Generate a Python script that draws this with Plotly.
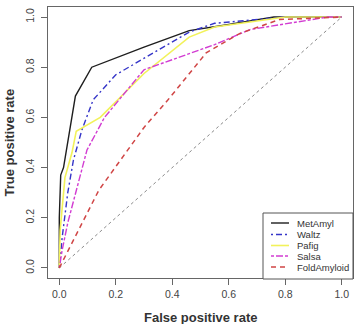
import plotly.graph_objects as go

# ---- data ----
series_names = ["MetAmyl", "Waltz", "Pafig", "Salsa", "FoldAmyloid"]

metamyl_fpr = [0.0, 0.0, 0.005, 0.015, 0.057, 0.115, 0.30, 0.46, 0.60, 0.76, 1.0]
metamyl_tpr = [0.0, 0.20, 0.37, 0.40, 0.685, 0.80, 0.88, 0.946, 0.97, 1.0, 1.0]

waltz_fpr = [0.0, 0.01, 0.03, 0.05, 0.08, 0.12, 0.20, 0.35, 0.46, 0.55, 0.80, 1.0]
waltz_tpr = [0.0, 0.12, 0.30, 0.43, 0.55, 0.67, 0.77, 0.87, 0.94, 0.975, 1.0, 1.0]

pafig_fpr = [0.0, 0.003, 0.02, 0.045, 0.06, 0.145, 0.30, 0.46, 0.55, 0.80, 1.0]
pafig_tpr = [0.0, 0.15, 0.36, 0.46, 0.545, 0.60, 0.775, 0.92, 0.96, 1.0, 1.0]

salsa_fpr = [0.0, 0.01, 0.03, 0.06, 0.098, 0.16, 0.30, 0.55, 0.675, 0.95, 1.0]
salsa_tpr = [0.0, 0.07, 0.18, 0.31, 0.47, 0.60, 0.79, 0.89, 0.95, 1.0, 1.0]

fold_fpr = [0.0, 0.14, 0.30, 0.385, 0.52, 0.64, 0.78, 1.0]
fold_tpr = [0.0, 0.31, 0.56, 0.67, 0.857, 0.935, 0.99, 1.0]

diag = [0.0, 1.0]

tick_vals = [0.0, 0.2, 0.4, 0.6, 0.8, 1.0]
tick_text = ["0.0", "0.2", "0.4", "0.6", "0.8", "1.0"]

# ---- styles ----
colors = ["#1e1e1e", "#3535c8", "#f2f25a", "#d23cd2", "#d04545"]
dashes = ["solid", "2px,3px,6px,3px", "solid", "3px,2px,7px,2px", "5px,4px"]
widths = [1.4, 1.4, 1.6, 1.4, 1.5]

xs = [metamyl_fpr, waltz_fpr, pafig_fpr, salsa_fpr, fold_fpr]
ys = [metamyl_tpr, waltz_tpr, pafig_tpr, salsa_tpr, fold_tpr]

fig = go.Figure()
fig.add_trace(go.Scatter(x=diag, y=diag, mode="lines",
                         line=dict(color="#8a8a8a", width=1, dash="dot"),
                         showlegend=False, hoverinfo="skip"))
for name, x, y, c, d, w in zip(series_names, xs, ys, colors, dashes, widths):
    fig.add_trace(go.Scatter(x=x, y=y, mode="lines", name=name,
                             line=dict(color=c, width=w, dash=d),
                             showlegend=False))

# plot area in pixels
L, R, T, B = 48, 353, 7, 278
W, H = 356, 324
def px(xp):
    return (xp - L) / (R - L)
def py(yp):
    return (B - yp) / (B - T)

# manual legend (R-style)
shapes = [dict(type="rect", xref="paper", yref="paper",
               x0=px(263), x1=px(353), y0=py(279), y1=py(213),
               line=dict(color="#555555", width=1), fillcolor="white", layer="above")]
annotations = []
row_y = [223, 234.5, 245.5, 256, 267]
for name, c, d, w, ry in zip(series_names, colors, dashes, widths, row_y):
    shapes.append(dict(type="line", xref="paper", yref="paper",
                       x0=px(271), x1=px(289), y0=py(ry), y1=py(ry),
                       line=dict(color=c, width=w, dash=d), layer="above"))
    annotations.append(dict(text=name, xref="paper", yref="paper",
                            x=px(295), y=py(ry), xanchor="left", yanchor="middle",
                            showarrow=False,
                            font=dict(family="Liberation Sans, Arial", size=9.5, color="#333333")))

annotations.append(dict(text="<b>False positive rate</b>", xref="paper", yref="paper",
                        x=px(200.5), y=py(317), xanchor="center", yanchor="middle",
                        showarrow=False,
                        font=dict(family="Liberation Sans, Arial", size=13, color="#333333")))
annotations.append(dict(text="<b>True positive rate</b>", xref="paper", yref="paper",
                        x=px(9), y=py(142.5), xanchor="center", yanchor="middle",
                        textangle=-90, showarrow=False,
                        font=dict(family="Liberation Sans, Arial", size=13, color="#333333")))

axis_common = dict(range=[-0.04, 1.04], tickvals=tick_vals, ticktext=tick_text,
                   showgrid=False, zeroline=False, showline=True, mirror=True,
                   linecolor="#666666", linewidth=1, ticks="outside", ticklen=6,
                   tickcolor="#666666", tickwidth=1,
                   tickfont=dict(family="Liberation Sans, Arial", size=10.5, color="#444444"))

fig.update_layout(
    width=W, height=H,
    margin=dict(l=L, r=W - R, t=T, b=H - B),
    paper_bgcolor="white", plot_bgcolor="white",
    xaxis=dict(**axis_common),
    yaxis=dict(**axis_common, tickangle=-90, ticklabelstandoff=3),
    shapes=shapes, annotations=annotations,
    showlegend=False,
)

fig.write_html("out.html")
